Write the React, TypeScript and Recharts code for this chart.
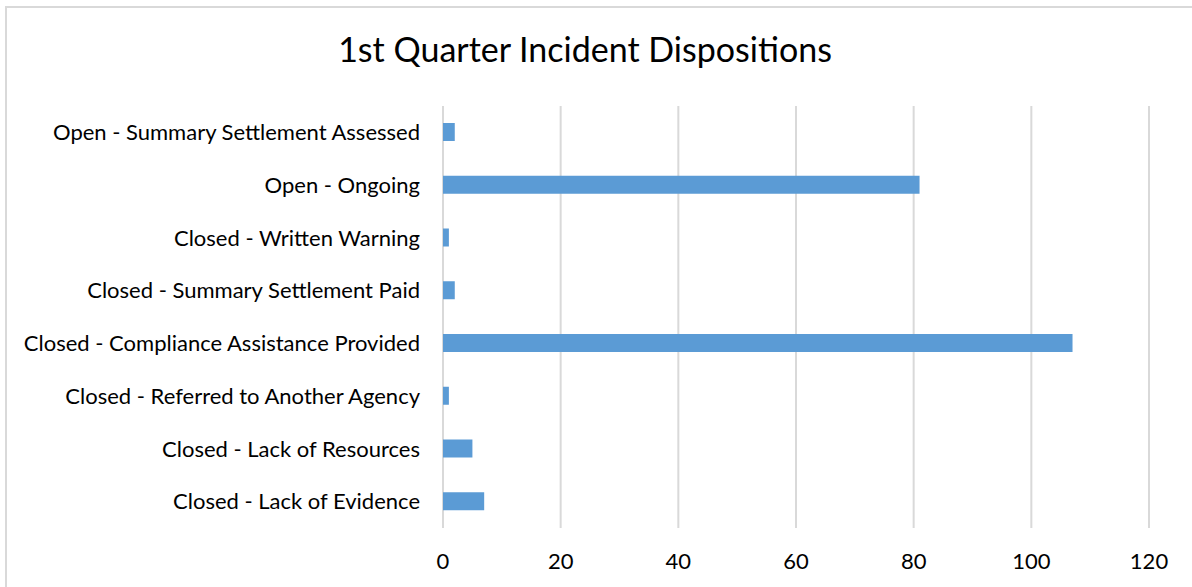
import React from 'react';
import { BarChart, Bar, XAxis, YAxis, CartesianGrid } from 'recharts';

// categories top to bottom, as shown in the chart
const categories = [
  'Open - Summary Settlement Assessed',
  'Open - Ongoing',
  'Closed - Written Warning',
  'Closed - Summary Settlement Paid',
  'Closed - Compliance Assistance Provided',
  'Closed - Referred to Another Agency',
  'Closed - Lack of Resources',
  'Closed - Lack of Evidence',
];
const counts = [2, 81, 1, 2, 107, 1, 5, 7];
const xTicks = [0, 20, 40, 60, 80, 100, 120];

const FONT = 'Lato, "Open Sans", sans-serif';

const App: React.FC = () => {
  const data = categories.map((name, i) => ({ name, count: counts[i] }));

  return (
    <div style={{ position: 'absolute', left: 0, top: 0, width: 1192, height: 587, background: '#fff', fontFamily: FONT }}>
      {/* chart frame, cut off at right and bottom like the screenshot */}
      <div style={{ position: 'absolute', left: 5, top: 6, width: 1200, height: 600, borderLeft: '2px solid #d9d9d9', borderTop: '2px solid #d9d9d9' }} />
      <div style={{ position: 'absolute', left: 0, top: 28, width: 1170, textAlign: 'center', fontSize: 34, color: '#000' }}>
        1st Quarter Incident Dispositions
      </div>
      <div style={{ position: 'absolute', left: 0, top: 0 }}>
        <BarChart
          width={1192}
          height={587}
          data={data}
          layout="vertical"
          margin={{ top: 106, right: 43, bottom: 9, left: 0 }}
          barSize={18}
        >
          <CartesianGrid horizontal={false} stroke="#d9d9d9" strokeWidth={2} />
          <XAxis
            type="number"
            domain={[0, 120]}
            ticks={xTicks}
            height={50}
            axisLine={false}
            tickLine={false}
            tickMargin={19}
            tick={{ fontSize: 22, fill: '#000', fontFamily: FONT }}
          />
          <YAxis
            type="category"
            dataKey="name"
            width={443}
            axisLine={false}
            tickLine={false}
            tickMargin={17}
            interval={0}
            tick={{ fontSize: 22, fill: '#000', fontFamily: FONT }}
          />
          <Bar dataKey="count" fill="#5b9bd5" isAnimationActive={false} />
        </BarChart>
      </div>
    </div>
  );
};

export default App;
